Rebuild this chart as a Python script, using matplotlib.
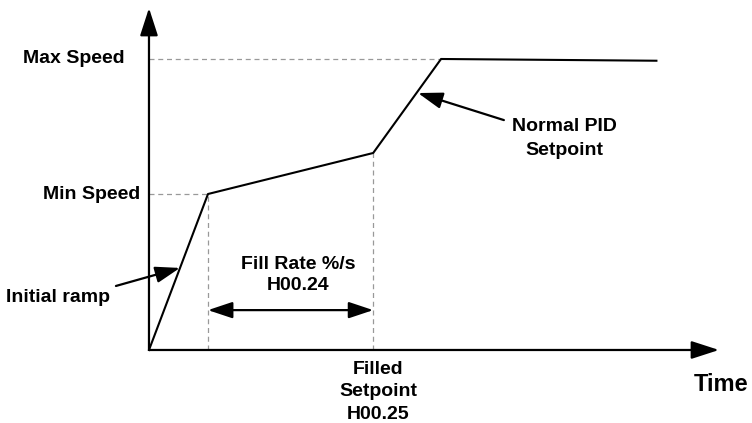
import matplotlib.pyplot as plt

plt.rcParams['font.family'] = ['Liberation Sans', 'DejaVu Sans']
plt.rcParams['font.weight'] = 'bold'

# speed profile: time (s) vs speed (% of max)
time = [0, 2.0, 7.6, 9.9, 17.2]
speed = [0, 53.6, 67.7, 100, 99.4]

min_speed = 53.6
max_speed = 100
t_min = 2.0      # end of initial ramp
t_filled = 7.6   # filled setpoint reached
t_max = 9.9      # max speed reached

fig = plt.figure(figsize=(7.52, 4.23), dpi=100)
ax = fig.add_axes([0, 0, 1, 1])
ax.set_xlim(-5.05, 20.44)
ax.set_ylim(-25.09, 120.27)
ax.axis('off')

# axes with arrow heads
axis_arrow = dict(arrowstyle='-|>,head_length=1.7,head_width=0.55', color='black',
                  lw=1.6, shrinkA=0, shrinkB=0, mutation_scale=10)
ax.annotate('', xy=(0, 117.5), xytext=(0, 0), arrowprops=axis_arrow)
ax.annotate('', xy=(19.32, 0), xytext=(0, 0), arrowprops=axis_arrow)

# dashed guide lines
dash = dict(color='#999999', lw=0.9, ls=(0, (4, 3)))
ax.plot([0, t_max], [max_speed, max_speed], **dash)
ax.plot([0, t_min], [min_speed, min_speed], **dash)
ax.plot([t_min, t_min], [0, min_speed], **dash)
ax.plot([t_filled, t_filled], [0, speed[2]], **dash)

# speed curve
ax.plot(time, speed, color='black', lw=1.5)

# labels
fs = 14
ax.text(-0.81, max_speed, 'Max Speed', ha='right', va='center', fontsize=fs)
ax.text(-0.31, min_speed, 'Min Speed', ha='right', va='center', fontsize=fs)
ax.text(19.39, -12.0, 'Time', ha='center', va='center', fontsize=17)
ax.text(7.76, -14.4, 'Filled\nSetpoint\nH00.25', ha='center', va='center',
        fontsize=fs, linespacing=1.45)
ax.text(5.05, 25.8, 'Fill Rate %/s\nH00.24', ha='center', va='center',
        fontsize=fs, linespacing=1.35)

# fill rate double arrow
ax.annotate('', xy=(t_filled, 13.7), xytext=(t_min, 13.7),
            arrowprops=dict(arrowstyle='<|-|>,head_length=1.5,head_width=0.5',
                            color='black', lw=1.6, shrinkA=0, shrinkB=0,
                            mutation_scale=10))

# pointer annotations
pointer = dict(arrowstyle='-|>,head_length=1.5,head_width=0.5', color='black',
               lw=1.6, shrinkA=0, shrinkB=0, mutation_scale=10)
ax.annotate('', xy=(1.05, 28.2), xytext=(-1.12, 22.0), arrowprops=pointer)
ax.text(-3.08, 17.9, 'Initial ramp', ha='center', va='center', fontsize=fs)
ax.annotate('', xy=(9.12, 88.3), xytext=(12.03, 79.0), arrowprops=pointer)
ax.text(14.07, 72.6, 'Normal PID\nSetpoint', ha='center', va='center',
        fontsize=fs, linespacing=1.5)

fig.savefig('out.png', dpi=100)
